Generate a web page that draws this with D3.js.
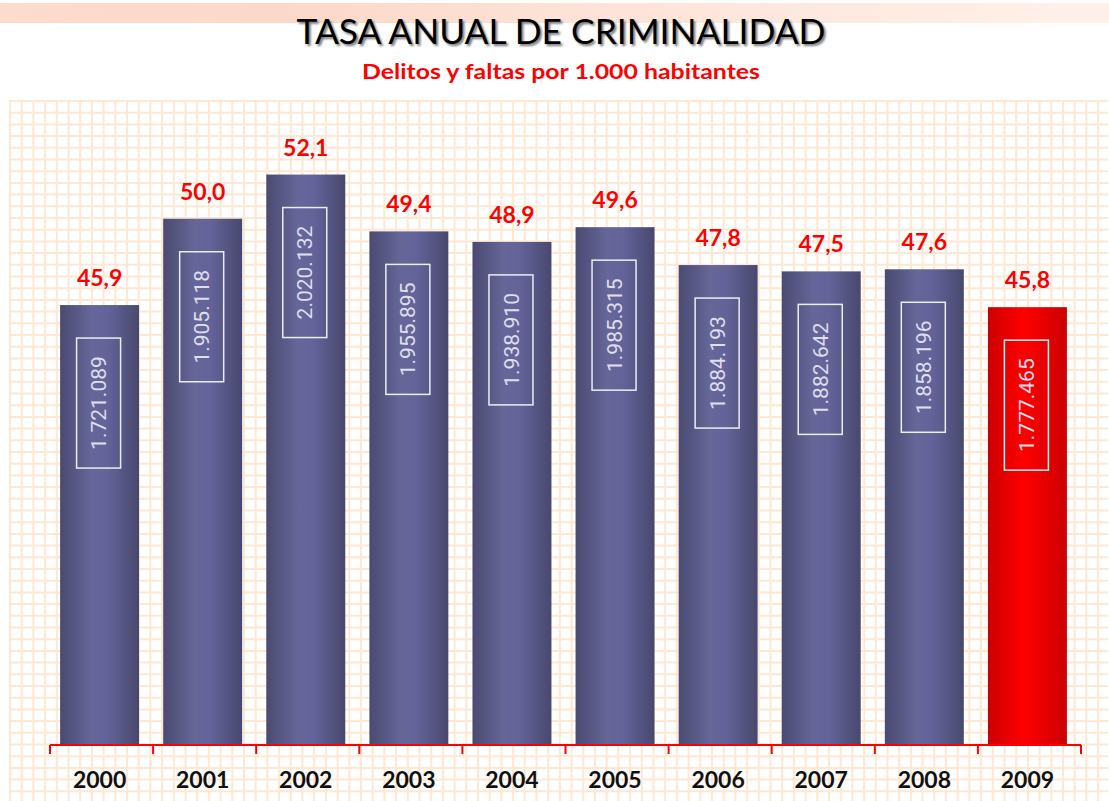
<!DOCTYPE html>
<html>
<head>
<meta charset="utf-8">
<script src="https://cdn.jsdelivr.net/npm/d3@7"></script>
<style>
  body { margin: 0; background: #ffffff; }
  svg { display: block; }
</style>
</head>
<body>
<div id="chart"></div>
<script>
const years = ["2000", "2001", "2002", "2003", "2004", "2005", "2006", "2007", "2008", "2009"];
const rates = [45.9, 50.0, 52.1, 49.4, 48.9, 49.6, 47.8, 47.5, 47.6, 45.8];
const offences = [1721089, 1905118, 2020132, 1955895, 1938910, 1985315, 1884193, 1882642, 1858196, 1777465];
const highlightYear = "2009";

const width = 1109;
const height = 801;

const svg = d3.select("#chart")
  .append("svg")
  .attr("width", width)
  .attr("height", height);

const defs = svg.append("defs");

const blueGrad = defs.append("linearGradient").attr("id", "barBlue");
blueGrad.append("stop").attr("offset", "0%").attr("stop-color", "#4a4a72");
blueGrad.append("stop").attr("offset", "40%").attr("stop-color", "#666699");
blueGrad.append("stop").attr("offset", "60%").attr("stop-color", "#63639a");
blueGrad.append("stop").attr("offset", "100%").attr("stop-color", "#48486e");

const redGrad = defs.append("linearGradient").attr("id", "barRed");
redGrad.append("stop").attr("offset", "0%").attr("stop-color", "#cc0000");
redGrad.append("stop").attr("offset", "45%").attr("stop-color", "#ff0000");
redGrad.append("stop").attr("offset", "100%").attr("stop-color", "#cc0000");

const bandGrad = defs.append("linearGradient").attr("id", "header");
bandGrad.append("stop").attr("offset", "0%").attr("stop-color", "#fcdccd");
bandGrad.append("stop").attr("offset", "25%").attr("stop-color", "#fcd8c8");
bandGrad.append("stop").attr("offset", "50%").attr("stop-color", "#fde2d6");
bandGrad.append("stop").attr("offset", "100%").attr("stop-color", "#fff1ea");

const shadow = defs.append("filter").attr("id", "blur");
shadow.append("feGaussianBlur").attr("stdDeviation", 1.2);

// header band
svg.append("rect")
  .attr("x", 0).attr("y", 3)
  .attr("width", width).attr("height", 20)
  .attr("fill", "url(#header)");

// graph paper background
const gridStep = 11.7;
const grid = svg.append("g").attr("class", "grid")
  .attr("stroke", "#fee8d3")
  .attr("stroke-width", 2);

grid.selectAll("line.v")
  .data(d3.range(10, 1108, gridStep))
  .join("line")
  .attr("class", "v")
  .attr("x1", d => d).attr("x2", d => d)
  .attr("y1", 100).attr("y2", height);

grid.selectAll("line.h")
  .data(d3.range(101, height, gridStep))
  .join("line")
  .attr("class", "h")
  .attr("x1", 10).attr("x2", 1108)
  .attr("y1", d => d).attr("y2", d => d);

// titles
svg.append("text")
  .attr("x", 563).attr("y", 46)
  .attr("text-anchor", "middle")
  .attr("font-family", "Lato")
  .attr("font-size", 35)
  .attr("textLength", 529)
  .attr("lengthAdjust", "spacingAndGlyphs")
  .attr("fill", "#777777")
  .attr("filter", "url(#blur)")
  .text("TASA ANUAL DE CRIMINALIDAD");

svg.append("text")
  .attr("x", 561).attr("y", 44)
  .attr("text-anchor", "middle")
  .attr("font-family", "Lato")
  .attr("font-size", 35)
  .attr("textLength", 529)
  .attr("lengthAdjust", "spacingAndGlyphs")
  .attr("fill", "#000000")
  .text("TASA ANUAL DE CRIMINALIDAD");

svg.append("text")
  .attr("x", 561).attr("y", 79)
  .attr("text-anchor", "middle")
  .attr("font-family", "Lato")
  .attr("font-weight", "bold")
  .attr("font-size", 21)
  .attr("textLength", 398)
  .attr("lengthAdjust", "spacingAndGlyphs")
  .attr("fill", "#ff0000")
  .text("Delitos y faltas por 1.000 habitantes");

// scales
const axisStart = 50;
const axisEnd = 1081;

const x = d3.scaleBand()
  .domain(years)
  .range([axisStart, axisEnd - 4])
  .paddingInner(0.234)
  .paddingOuter(0.098);

const y = d3.scaleLinear()
  .domain([25, 55])
  .range([745, 113.5]);

const data = years.map((year, i) => ({ year, rate: rates[i], count: offences[i] }));

const fmtRate = d => d3.format(".1f")(d).replace(".", ",");
const fmtCount = d => d3.format(",")(d).replace(/,/g, ".");

// bars
svg.selectAll(".bar")
  .data(data)
  .join("rect")
  .attr("class", "bar")
  .attr("x", d => x(d.year))
  .attr("y", d => y(d.rate))
  .attr("width", x.bandwidth())
  .attr("height", d => y.range()[0] - y(d.rate))
  .attr("fill", d => d.year === highlightYear ? "url(#barRed)" : "url(#barBlue)");

// rate labels above bars
svg.selectAll(".rate-label")
  .data(data)
  .join("text")
  .attr("class", "rate-label")
  .attr("x", d => x(d.year) + x.bandwidth() / 2)
  .attr("y", d => y(d.rate) - 19)
  .attr("text-anchor", "middle")
  .attr("font-family", "Lato")
  .attr("font-weight", "bold")
  .attr("font-size", 23)
  .attr("fill", "#ff0000")
  .text(d => fmtRate(d.rate));

// count labels inside bars
const inner = svg.selectAll(".count-label")
  .data(data)
  .join("g")
  .attr("class", "count-label")
  .attr("transform", d =>
    `translate(${x(d.year) + x.bandwidth() / 2 - 1},${y(d.rate) + 98})`);

inner.append("rect")
  .attr("x", -22).attr("y", -65)
  .attr("width", 44).attr("height", 130)
  .attr("fill", "none")
  .attr("stroke", "#ececf4")
  .attr("stroke-width", 1.5);

inner.append("text")
  .attr("transform", "rotate(-90)")
  .attr("text-anchor", "middle")
  .attr("dy", "0.36em")
  .attr("font-family", "Roboto")
  .attr("font-size", 21)
  .attr("fill", "#dedeec")
  .text(d => fmtCount(d.count));

// category axis
const tickStep = (axisEnd - axisStart) / years.length;
const axis = svg.append("g").attr("class", "x-axis");

axis.append("line")
  .attr("x1", axisStart).attr("x2", axisEnd)
  .attr("y1", 745).attr("y2", 745)
  .attr("stroke", "#ff0000")
  .attr("stroke-width", 2);

axis.selectAll(".tick-mark")
  .data(d3.range(years.length + 1))
  .join("line")
  .attr("class", "tick-mark")
  .attr("x1", i => axisStart + i * tickStep)
  .attr("x2", i => axisStart + i * tickStep)
  .attr("y1", 745).attr("y2", 754)
  .attr("stroke", "#ff0000")
  .attr("stroke-width", 2);

axis.selectAll(".year-label")
  .data(years)
  .join("text")
  .attr("class", "year-label")
  .attr("x", d => x(d) + x.bandwidth() / 2)
  .attr("y", 788)
  .attr("text-anchor", "middle")
  .attr("font-family", "Lato")
  .attr("font-weight", "bold")
  .attr("font-size", 23)
  .attr("fill", "#111111")
  .text(d => d);
</script>
</body>
</html>
